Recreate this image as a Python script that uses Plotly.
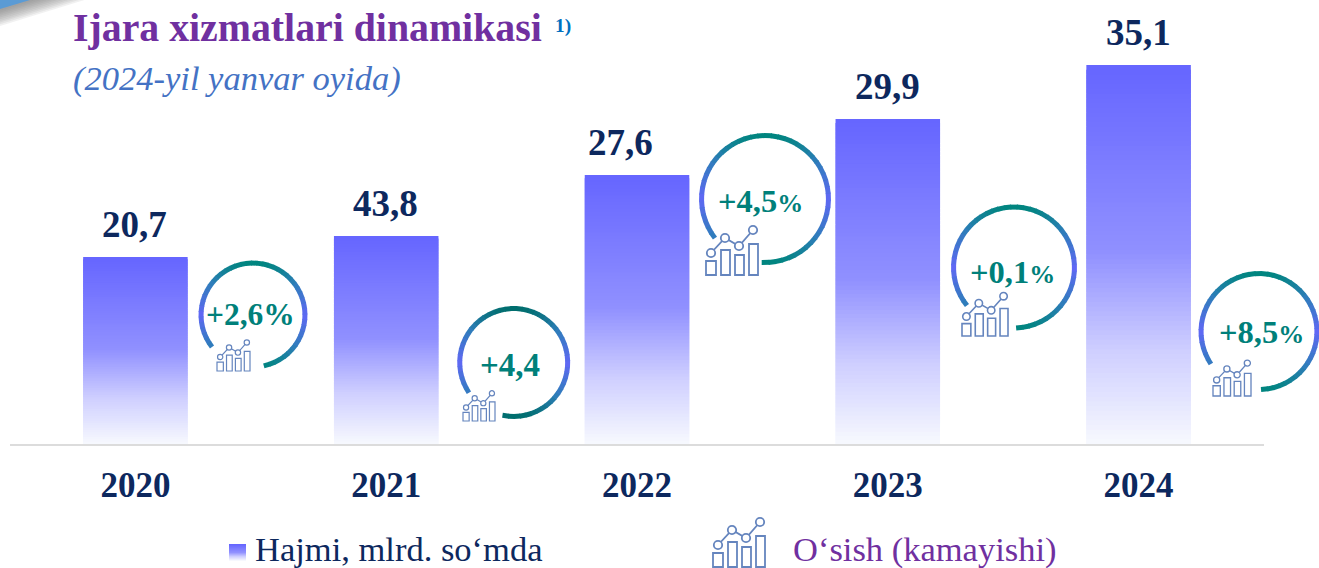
import math
import plotly.graph_objects as go

# ---- data ----
years = [2020, 2021, 2022, 2023, 2024]
value_labels = ["20,7", "43,8", "27,6", "29,9", "35,1"]
bar_heights = [187, 208, 269, 325, 379]   # drawn bar heights as seen in the picture
growth_labels = ["+2,6%", "+4,4", "+4,5%", "+0,1%", "+8,5%"]

title_text = "Ijara xizmatlari dinamikasi"
subtitle_text = "(2024-yil yanvar oyida)"
legend_bar_text = "Hajmi, mlrd. so‘mda"
legend_growth_text = "O‘sish (kamayishi)"

# ---- layout constants ----
W, H = 1319, 568
ML, MR, MT, MB = 10, 0, 0, 124
YEAR_PX = 250.8
PLOT_W = W - ML - MR
PLOT_H = H - MB - MT
SERIF = "Liberation Serif"
NAVY = "#0D285E"
TEAL = "#00807A"
PURPLE = "#7030A0"
ICON = "#6585BE"


def X(px):
    return 2019.5 + (px - ML) / YEAR_PX


def Y(py):
    return (H - MB) - py


def PX(px):
    return (px - ML) / PLOT_W


def PY(py):
    return (H - MB - py) / PLOT_H


def lerp(a, b, t):
    return tuple(a[i] + (b[i] - a[i]) * t for i in range(3))


def rgb(c):
    return "rgb(%d,%d,%d)" % tuple(round(v) for v in c)


BAR_STOPS = [(0, (102, 102, 255)), (0.5, (145, 145, 255)), (0.75, (205, 205, 255)), (1, (246, 248, 254))]


def bar_color(t):
    for (t0, c0), (t1, c1) in zip(BAR_STOPS, BAR_STOPS[1:]):
        if t <= t1:
            return lerp(c0, c1, (t - t0) / (t1 - t0))
    return BAR_STOPS[-1][1]


fig = go.Figure()

# bars: each bar is painted as a stack of thin slices to give the vertical gradient
STEPS = 80
for k in range(STEPS):
    top_f = 1 - k / STEPS
    low_f = max(0, 1 - (k + 2) / STEPS)
    fig.add_trace(go.Bar(
        x=years,
        y=[h * (top_f - low_f) for h in bar_heights],
        base=[h * low_f for h in bar_heights],
        width=104.5 / YEAR_PX,
        marker=dict(color=rgb(bar_color(k / (STEPS - 1))), line=dict(width=0)),
        showlegend=False, hoverinfo="skip"))

# rings: centre px, centre py, radius, arc start deg, arc end deg, top colour
rings = [
    (253, 315, 52, -78, 218, (0, 133, 127)),
    (513.7, 362.5, 54, -102, 214, (0, 110, 110)),
    (765, 199, 63.5, -93, 218, (0, 133, 127)),
    (1014, 267.5, 60.5, -88, 219, (0, 133, 127)),
    (1259, 331.5, 58, -88, 214, (0, 133, 127)),
]
MID = (46, 125, 186)
SIDE = (96, 104, 245)
for cx, cy, r, a0, a1, top in rings:
    n = int((a1 - a0) / 6)
    for i in range(n):
        s = a0 + (a1 - a0) * i / n
        e = min(a0 + (a1 - a0) * (i + 1.15) / n, a1)
        t = abs(math.sin(math.radians((s + e) / 2)))
        col = lerp(SIDE, MID, t / 0.6) if t < 0.6 else lerp(MID, top, (t - 0.6) / 0.4)
        pts = [math.radians(s + (e - s) * j / 3) for j in range(4)]
        fig.add_trace(go.Scatter(
            x=[X(cx + r * math.cos(p)) for p in pts],
            y=[Y(cy - r * math.sin(p)) for p in pts],
            mode="lines", line=dict(color=rgb(col), width=5),
            cliponaxis=False, showlegend=False, hoverinfo="skip"))

shapes = []

# baseline
shapes.append(dict(type="line", xref="x", yref="paper", x0=2019.5, x1=2024.5,
                   y0=PY(445), y1=PY(445), line=dict(color="#DCDCDC", width=2)))


# icon: little chart glyph, left px, bottom py, width px
def add_icon(left, bottom, width):
    s = width / 52
    lw = max(1.2, 1.8 * s)
    for a, b, h in [(0, 10, 14), (15, 24, 25), (29, 38, 20), (43, 52, 31)]:
        shapes.append(dict(type="rect", xref="paper", yref="paper",
                           x0=PX(left + a * s), x1=PX(left + b * s),
                           y0=PY(bottom), y1=PY(bottom - h * s),
                           fillcolor="white", line=dict(color=ICON, width=lw)))
    nodes = [(5, 22), (19, 37), (33, 29), (47, 45)]
    path = " ".join("%s %f %f" % ("M" if i == 0 else "L", PX(left + a * s), PY(bottom - b * s))
                    for i, (a, b) in enumerate(nodes))
    shapes.append(dict(type="path", xref="paper", yref="paper", path=path,
                       line=dict(color=ICON, width=lw)))
    rad = 4.2 * s
    for a, b in nodes:
        shapes.append(dict(type="circle", xref="paper", yref="paper",
                           x0=PX(left + a * s - rad), x1=PX(left + a * s + rad),
                           y0=PY(bottom - b * s + rad), y1=PY(bottom - b * s - rad),
                           fillcolor="white", line=dict(color=ICON, width=lw)))


for left, bottom, width in [(217, 371, 33), (463, 421, 32), (706, 275, 52), (962, 336, 46), (1213, 396, 38), (713, 567, 52)]:
    add_icon(left, bottom, width)

annotations = []


def px_note(text, px, py, size, color, xanchor="center", yanchor="middle", bold=False, italic=False):
    if bold:
        text = "<b>%s</b>" % text
    if italic:
        text = "<i>%s</i>" % text
    annotations.append(dict(
        text=text, xref="paper", yref="paper", x=PX(px), y=PY(py),
        xanchor=xanchor, yanchor=yanchor, showarrow=False,
        font=dict(family=SERIF, size=size, color=color)))


# value labels, attached to the bars
label_shift = [-1, -1, -17, 0, 0]
for yr, h, lab, sh in zip(years, bar_heights, value_labels, label_shift):
    annotations.append(dict(
        text="<b>%s</b>" % lab, x=yr, y=h, xref="x", yref="y", xshift=sh, yshift=10,
        xanchor="center", yanchor="bottom", showarrow=False,
        font=dict(family=SERIF, size=37, color=NAVY)))

# growth labels
growth_pos = [(250, 314, 31.5, 31.5), (510, 365, 33, 33), (760, 201, 32.5, 26), (1012, 272, 32.5, 26), (1261, 332, 32.5, 26)]
for lab, (px, py, size, pct) in zip(growth_labels, growth_pos):
    text = lab
    if lab.endswith("%") and pct != size:
        text = lab[:-1] + '<span style="font-size:%dpx">%%</span>' % pct
    px_note(text, px, py, size, TEAL, bold=True)

# titles and legend texts
px_note(title_text, 71, 28, 39.8, PURPLE, xanchor="left", bold=True)
px_note("1)", 553, 26, 19.5, "#0070C0", xanchor="left", bold=True)
px_note(subtitle_text, 71, 79, 34.5, "#4472C4", xanchor="left", italic=True)
px_note(legend_bar_text, 253, 549, 34.5, NAVY, xanchor="left")
px_note(legend_growth_text, 791, 549, 34.5, PURPLE, xanchor="left")

# legend swatch with the same gradient as the bars
SW = 17
for i in range(SW):
    shapes.append(dict(type="rect", xref="paper", yref="paper",
                       x0=PX(229), x1=PX(246), y0=PY(544 + i), y1=PY(544 + i + 1),
                       fillcolor=rgb(bar_color(i / (SW - 1))), line=dict(width=0)))

# corner decoration: fading grey shadow under a blue wedge
for i in range(10, 0, -1):
    d = i * 1.7
    shapes.append(dict(type="path", xref="paper", yref="paper",
                       path="M %f %f L %f %f L %f %f Z" % (
                           PX(0), PY(0), PX(30 + d * 3.2), PY(0), PX(0), PY(9 + d)),
                       fillcolor="rgba(120,120,120,0.10)", line=dict(width=0)))
shapes.append(dict(type="path", xref="paper", yref="paper",
                   path="M %f %f L %f %f L %f %f Z" % (PX(0), PY(0), PX(30), PY(0), PX(0), PY(9)),
                   fillcolor="#5B9BD5", line=dict(width=0)))

fig.update_layout(
    width=W, height=H, autosize=False,
    margin=dict(l=ML, r=MR, t=MT, b=MB, pad=0),
    paper_bgcolor="white", plot_bgcolor="white",
    barmode="overlay", showlegend=False,
    annotations=annotations, shapes=shapes,
    xaxis=dict(range=[2019.5, X(W - MR)], tickmode="array", tickvals=years,
               ticktext=["<b>%d</b>" % y for y in years],
               tickfont=dict(family=SERIF, size=35, color=NAVY),
               showgrid=False, zeroline=False, showline=False,
               ticks="", ticklabelstandoff=17),
    yaxis=dict(range=[0, H - MB], visible=False, showgrid=False, zeroline=False),
)
fig.write_html("out.html", config=dict(displayModeBar=False),
               post_script="document.body.style.margin='0';document.body.style.overflow='hidden';")
